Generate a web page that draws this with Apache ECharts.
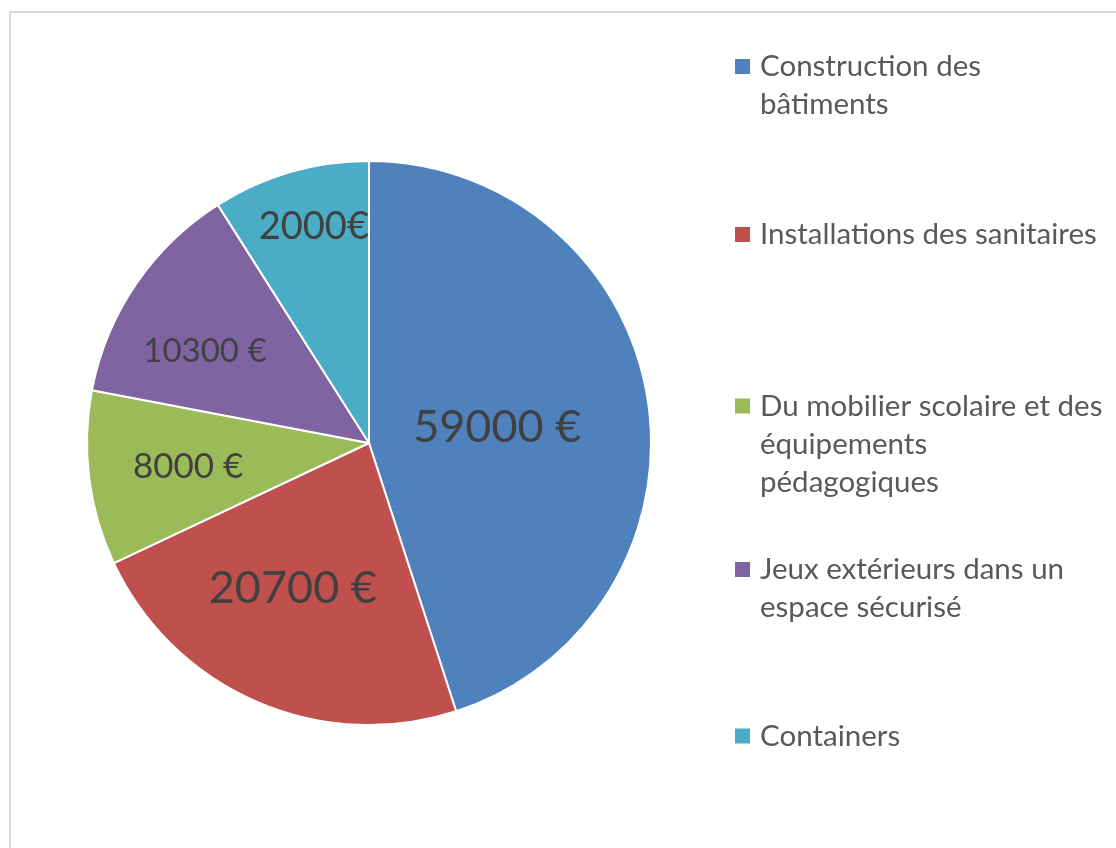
<!DOCTYPE html>
<html>
<head>
<meta charset="utf-8">
<title>Budget</title>
<script src="https://cdn.jsdelivr.net/npm/echarts@6/dist/echarts.min.js"></script>
<style>
  html, body { margin: 0; padding: 0; background: #fff; }
  #chart { width: 1116px; height: 848px; }
</style>
</head>
<body>
<div id="chart"></div>
<script>
// postes de dépense
const categories = [
  'Construction des bâtiments',
  'Installations des sanitaires',
  'Du mobilier scolaire et des équipements pédagogiques',
  'Jeux extérieurs dans un espace sécurisé',
  'Containers'
];
// libellés de légende, coupés comme dans l'original
const legendLabels = [
  'Construction des\nbâtiments',
  'Installations des sanitaires',
  'Du mobilier scolaire et des\néquipements\npédagogiques',
  'Jeux extérieurs dans un\nespace sécurisé',
  'Containers'
];
const shares = [45, 23, 10, 13, 9];
// montants écrits dans les secteurs
const amountLabels = ['59000 €', '20700 €', '8000 €', '10300 €', '2000€'];

const colors = ['#4f81bd', '#c0504d', '#9bbb59', '#8064a2', '#4bacc6'];
// taille et décalage manuel des étiquettes (déplacées à la main dans l'original)
const labelSizes = [45, 45, 35, 33, 38];
const labelShift = [[-14, 7], [-19, 13], [-38, 6], [-45, -11], [-15, -78]];
// centre de la 1re ligne de chaque entrée de légende
const legendRowY = [66.5, 234.5, 406, 569.5, 736];
const lineH = 38;

let chart = echarts.init(document.getElementById('chart'));

chart.setOption({
  animation: false,
  graphic: [{
    type: 'rect',
    silent: true,
    shape: { x: 10, y: 12, width: 1300, height: 1000 },
    style: { fill: 'none', stroke: '#d9d9d9', lineWidth: 2 }
  }],
  legend: categories.map(function (name, i) {
    const n = legendLabels[i].split('\n').length;
    // lignes vides devant : la 1re vraie ligne tombe au niveau du carré
    const pad = new Array(n).join('\n');
    return {
      data: [name],
      left: 735,
      top: legendRowY[i] - (2 * n - 1) * lineH / 2,
      padding: 0,
      // carré de 15px centré dans une case de 25px
      icon: 'path://M0,0h1v1h-1z',
      symbolKeepAspect: true,
      itemWidth: 25,
      itemHeight: 15,
      selectedMode: false,
      itemStyle: { borderWidth: 0 },
      formatter: function () { return pad + legendLabels[i]; },
      textStyle: {
        fontFamily: 'Lato',
        fontSize: 29.5,
        color: '#595959',
        lineHeight: lineH
      }
    };
  }),
  series: [{
    type: 'pie',
    center: [369, 443],
    radius: 282,
    startAngle: 90,
    clockwise: true,
    emphasis: { disabled: true },
    itemStyle: { borderColor: '#fff', borderWidth: 2 },
    label: {
      position: 'inside',
      color: '#404040',
      fontFamily: 'Lato',
      formatter: function (p) { return amountLabels[p.dataIndex]; }
    },
    labelLine: { show: false },
    labelLayout: function (p) {
      const s = labelShift[p.dataIndex];
      return { dx: s[0], dy: s[1] };
    },
    data: categories.map(function (name, i) {
      return {
        name: name,
        value: shares[i],
        itemStyle: { color: colors[i] },
        label: { fontSize: labelSizes[i] }
      };
    })
  }]
});
</script>
</body>
</html>
